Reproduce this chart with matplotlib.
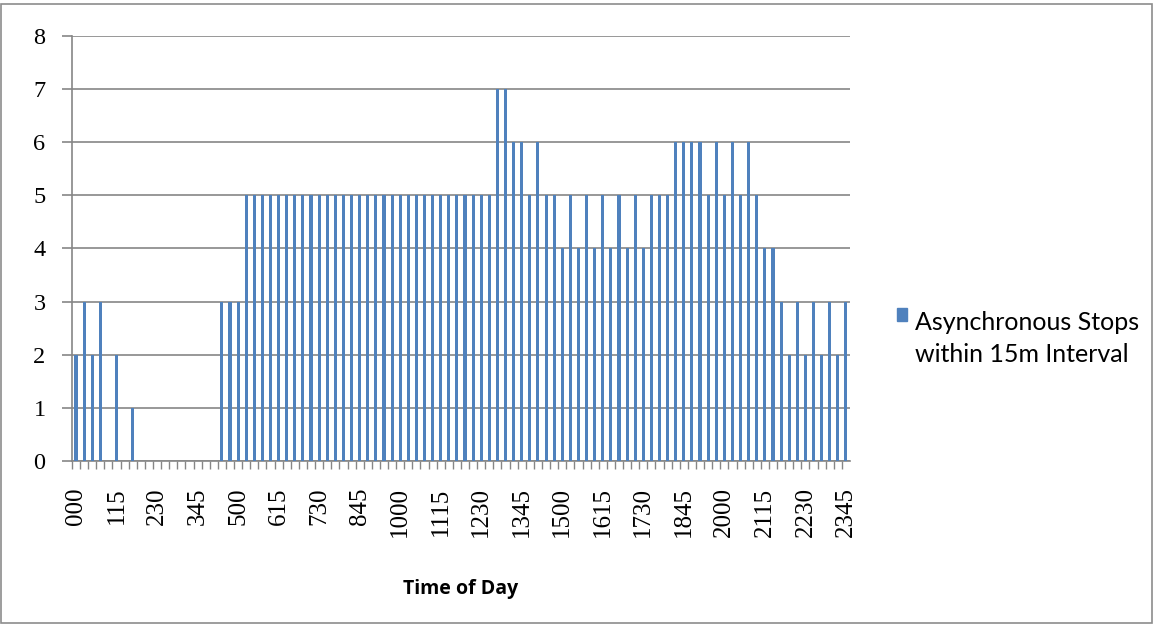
import numpy as np
import matplotlib.pyplot as plt
from matplotlib.patches import Rectangle, Patch
from matplotlib.legend_handler import HandlerPatch

# stops per 15 minute interval, 000 .. 2345
stops = [2, 3, 2, 3, 0, 2, 0, 1,
         0, 0, 0, 0, 0, 0, 0, 0, 0, 0,
         3, 3, 3,
         5, 5, 5, 5, 5, 5, 5, 5, 5, 5, 5, 5, 5, 5, 5, 5,
         5, 5, 5, 5, 5, 5, 5, 5, 5, 5, 5, 5, 5, 5, 5,
         7, 7, 6, 6, 5, 6, 5, 5,
         4, 5, 4, 5, 4, 5, 4, 5, 4, 5, 4,
         5, 5, 5, 6, 6, 6, 6,
         5, 6, 5, 6, 5, 6, 5,
         4, 4, 3, 2, 3, 2, 3, 2, 3, 2, 3]

times = []
for m in range(0, 24 * 60, 15):
    times.append(f"{m // 60}{m % 60:02d}" if m >= 60 else f"0{m % 60:02d}")

series_name = "Asynchronous Stops\nwithin 15m Interval"
bar_color = '#4F81BD'
grid_color = '#868686'

fig = plt.figure(figsize=(11.55, 6.25), dpi=100)
ax = fig.add_axes([0.0623, 0.2624, 0.6736, 0.68])

x = np.arange(len(stops))
ax.bar(x, stops, width=0.38, color=bar_color, zorder=3)

ax.set_xlim(-0.5, len(stops) - 0.5)
ax.set_ylim(0, 8)
ax.set_yticks(range(0, 9))
ax.yaxis.grid(True, color=grid_color, linewidth=1.2, zorder=0)

# category ticks on every bar, labels every fifth
ax.set_xticks(x - 0.5, minor=True)
ax.set_xticks(x[::5])
ax.set_xticklabels(times[::5], rotation=90, fontfamily='Liberation Serif', fontsize=18)
ax.tick_params(axis='x', which='major', length=0, pad=19)
ax.tick_params(axis='x', which='minor', length=6, color=grid_color, width=1)
ax.tick_params(axis='y', length=7, color=grid_color, width=1.2, labelsize=17.5, pad=12)
for lbl in ax.get_yticklabels():
    lbl.set_fontfamily('Liberation Serif')

for side in ['top', 'right']:
    ax.spines[side].set_visible(False)
ax.spines['left'].set_color(grid_color)
ax.spines['bottom'].set_color(grid_color)
ax.spines['left'].set_linewidth(1.2)
ax.spines['bottom'].set_linewidth(1.2)

ax.set_xlabel('Time of Day', fontfamily='Open Sans', fontweight='bold', fontsize=14, labelpad=30)


def top_square(legend, orig_handle, xdescent, ydescent, width, height, fontsize):
    # put the square beside the first line of the label
    return Rectangle((-xdescent, -ydescent + 18), width, height)


leg = fig.legend(handles=[Patch(color=bar_color, label=series_name)],
                 loc='center left', bbox_to_anchor=(0.757, 0.458), frameon=False,
                 handlelength=0.42, handleheight=0.42, handletextpad=0.3,
                 handler_map={Patch: HandlerPatch(patch_func=top_square)},
                 prop={'family': 'Lato', 'size': 18})
for t in leg.get_texts():
    t.set_linespacing(1.45)

# chart area border
fig.patches.append(Rectangle((0.001, 0.004), 0.996, 0.99, transform=fig.transFigure,
                             fill=False, edgecolor='#8c8c8c', linewidth=1.2))

fig.savefig('out.png', dpi=100)
